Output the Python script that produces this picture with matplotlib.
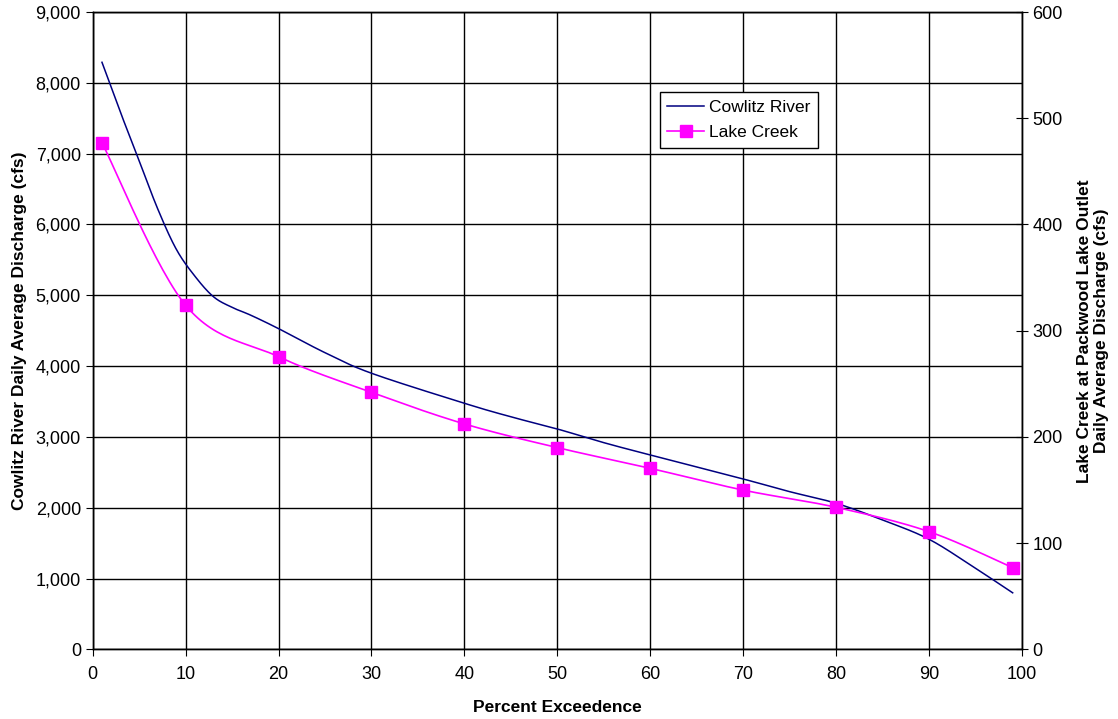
import numpy as np
import matplotlib.pyplot as plt
from matplotlib.ticker import FuncFormatter, MultipleLocator

plt.rcParams['font.family'] = ['Liberation Sans', 'DejaVu Sans']

# Cowlitz River (left axis, cfs)
cowlitz_x = [1, 3, 5, 7, 9, 11, 13, 15, 17, 20, 25, 30, 40, 45, 50, 55,
             60, 70, 75, 80, 85, 90, 95, 99]
cowlitz_q = [8290, 7580, 6900, 6220, 5650, 5270, 4980, 4830, 4720, 4530,
             4190, 3900, 3476, 3285, 3113, 2920, 2746, 2407, 2228, 2064,
             1828, 1556, 1146, 800]

# Lake Creek at Packwood Lake Outlet (right axis, cfs)
lake_x = [1, 10, 20, 30, 40, 50, 60, 70, 80, 90, 99]
lake_q = [477, 324, 275.6, 242, 212.3, 190, 170.5, 150, 133.8, 110.9, 77]


def smooth(x, y, n=30):
    # Excel-style smoothed line (Bezier through the points)
    x = np.asarray(x, float)
    y = np.asarray(y, float)
    px = np.concatenate([[x[0]], x, [x[-1]]])
    py = np.concatenate([[y[0]], y, [y[-1]]])
    xs, ys = [], []
    t = np.linspace(0, 1, n)
    for i in range(1, len(px) - 2):
        p0 = np.array([px[i], py[i]])
        p3 = np.array([px[i + 1], py[i + 1]])
        b1 = p0 + (np.array([px[i + 1], py[i + 1]]) - np.array([px[i - 1], py[i - 1]])) / 6
        b2 = p3 - (np.array([px[i + 2], py[i + 2]]) - np.array([px[i], py[i]])) / 6
        pts = ((1 - t)[:, None] ** 3 * p0 + 3 * ((1 - t) ** 2 * t)[:, None] * b1
               + 3 * ((1 - t) * t ** 2)[:, None] * b2 + (t ** 3)[:, None] * p3)
        xs.extend(pts[:, 0])
        ys.extend(pts[:, 1])
    return np.array(xs), np.array(ys)


fig = plt.figure(figsize=(11.18, 7.19), dpi=100)
ax = fig.add_axes([0.0829, 0.0967, 0.8312, 0.8866])
ax2 = ax.twinx()

cx, cy = smooth(cowlitz_x, cowlitz_q)
ax.plot(cx, cy, color='#000080', lw=1.1, zorder=3)

lx, ly = smooth(lake_x, lake_q)
ax2.plot(lx, ly, color='#FF00FF', lw=1.2, zorder=3)
ax2.plot(lake_x, lake_q, 's', color='#FF00FF', ms=8, zorder=4)

ax.set_xlim(0, 100)
ax.set_ylim(0, 9000)
ax2.set_ylim(0, 600)
ax.xaxis.set_major_locator(MultipleLocator(10))
ax.yaxis.set_major_locator(MultipleLocator(1000))
ax2.yaxis.set_major_locator(MultipleLocator(100))
ax.yaxis.set_major_formatter(FuncFormatter(lambda v, p: f'{int(v):,}'))

ax.grid(True, color='black', lw=1)
ax.set_axisbelow(True)
for a in (ax, ax2):
    for s in a.spines.values():
        s.set_color('black')
        s.set_linewidth(1)

ax.tick_params(axis='both', labelsize=13, length=5, direction='out', colors='black')
ax.tick_params(axis='x', pad=7)
ax2.tick_params(axis='y', labelsize=13, length=8, direction='inout', colors='black')

ax.set_xlabel('Percent Exceedence', fontsize=12.5, fontweight='bold', labelpad=12)
ax.set_ylabel('Cowlitz River Daily Average Discharge (cfs)', fontsize=12.5,
              fontweight='bold', labelpad=6)
ax2.set_ylabel('Lake Creek at Packwood Lake Outlet\nDaily Average Discharge (cfs)',
               fontsize=12.5, fontweight='bold', labelpad=10)

h1 = plt.Line2D([], [], color='#000080', lw=1.1)
h2 = plt.Line2D([], [], color='#FF00FF', lw=1.2, marker='s', ms=8)
leg = ax2.legend([h1, h2], ['Cowlitz River', 'Lake Creek'], loc='upper left',
                 bbox_to_anchor=(0.610, 0.874), fontsize=12.5, fancybox=False,
                 framealpha=1, edgecolor='black', borderpad=0.45,
                 handlelength=2.1, handletextpad=0.3, labelspacing=0.55,
                 borderaxespad=0)
leg.get_frame().set_linewidth(1)

fig.savefig('out.png', dpi=100)
